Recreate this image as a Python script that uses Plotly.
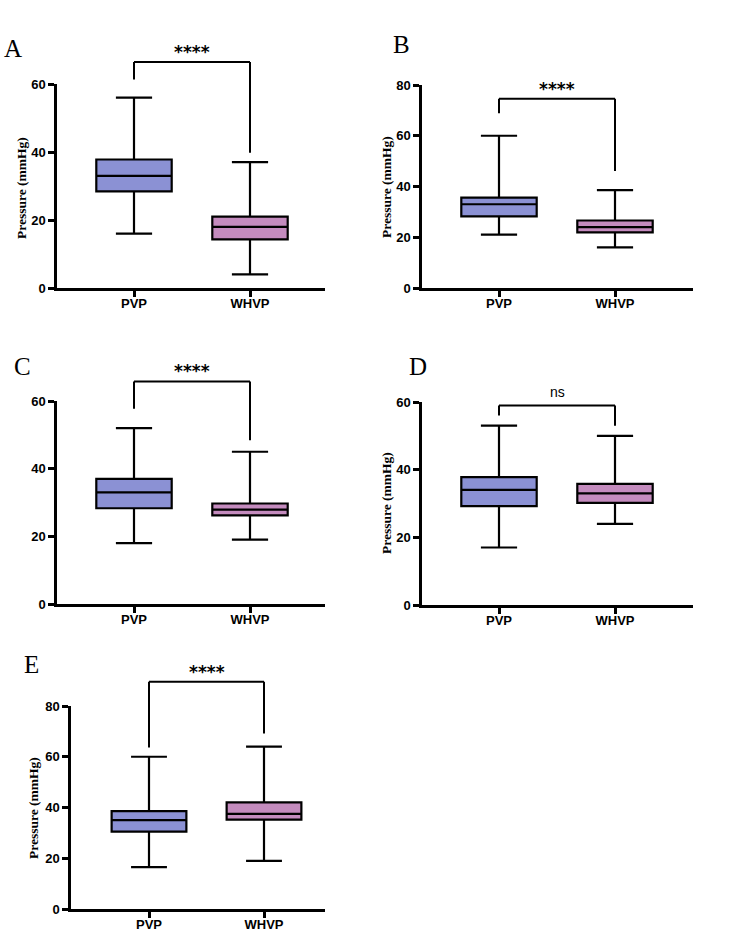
import plotly.graph_objects as go

# ---------------- data ----------------
categories = ["PVP", "WHVP"]
panel_letters = ["A", "B", "C", "D", "E"]

pvp_low = [16, 21, 18, 17, 16.5]
pvp_q1 = [28.4, 28.2, 28.3, 29.2, 30.5]
pvp_med = [33, 33, 33, 34, 35]
pvp_q3 = [37.8, 35.6, 37, 37.8, 38.6]
pvp_high = [56, 60, 52, 53, 60]

whvp_low = [4, 16, 19, 24, 19]
whvp_q1 = [14.3, 21.9, 26.2, 30.2, 35.2]
whvp_med = [18, 24, 27.9, 33, 37.5]
whvp_q3 = [21, 26.6, 29.7, 35.8, 42]
whvp_high = [37, 38.6, 45, 50, 64]

sig_labels = ["****", "****", "****", "ns", "****"]
bracket_top = [66.5, 74.6, 65.8, 59, 89.6]
bracket_left_end = [61.3, 68.9, 57.7, 56, 63.6]
bracket_right_end = [39.8, 46.1, 48.4, 53, 69.2]

y_max = [60, 80, 60, 60, 80]
y_ticks = [[0, 20, 40, 60], [0, 20, 40, 60, 80], [0, 20, 40, 60], [0, 20, 40, 60], [0, 20, 40, 60, 80]]
y_title = "Pressure (mmHg)"
show_y_title = [True, True, False, True, True]

# ---------------- layout geometry (pixels) ----------------
W, H = 733, 945
geo = [
    dict(x0=57, x1=325, yb=288, yt=84, c0=134, c1=250, lx=2, ly=33, tx=21, ty=188),
    dict(x0=422, x1=693, yb=288, yt=85, c0=499, c1=615, lx=391, ly=29, tx=386, ty=187),
    dict(x0=57, x1=325, yb=604, yt=401, c0=134, c1=250, lx=12, ly=351, tx=None, ty=None),
    dict(x0=422, x1=693, yb=605, yt=402, c0=499, c1=615, lx=407, ly=351, tx=387, ty=503),
    dict(x0=71, x1=325, yb=909, yt=706, c0=149, c1=264, lx=22, ly=649, tx=33, ty=808),
]

PVP_COLOR = "rgb(139,145,212)"
WHVP_COLOR = "rgb(196,139,190)"
TICK_FONT = dict(family="Liberation Sans, Arial, sans-serif", size=13, color="black", weight="bold")


def fx(px):
    return px / W


def fy(py):
    return 1 - py / H


fig = go.Figure()
shapes = []
annotations = []

for i in range(5):
    g = geo[i]
    sfx = "" if i == 0 else str(i + 1)
    xa, ya = "x" + sfx, "y" + sfx
    spacing = g["c1"] - g["c0"]
    xmin = (g["x0"] - g["c0"]) / spacing
    xmax = (g["x1"] - g["c0"]) / spacing

    for cat, col, lo, q1, md, q3, hi in [
        ("PVP", PVP_COLOR, pvp_low, pvp_q1, pvp_med, pvp_q3, pvp_high),
        ("WHVP", WHVP_COLOR, whvp_low, whvp_q1, whvp_med, whvp_q3, whvp_high),
    ]:
        fig.add_trace(go.Box(
            x=[cat], q1=[q1[i]], median=[md[i]], q3=[q3[i]],
            lowerfence=[lo[i]], upperfence=[hi[i]],
            fillcolor=col, line=dict(color="black", width=2.2),
            whiskerwidth=0.48, width=0.65, boxpoints=False,
            showlegend=False, xaxis=xa, yaxis=ya, hoverinfo="skip",
        ))

    axis_common = dict(showline=True, linecolor="black", linewidth=2.5,
                       ticks="outside", ticklen=6, tickwidth=2.5, tickcolor="black",
                       showgrid=False, zeroline=False, tickfont=TICK_FONT,
                       automargin=False)
    fig.layout["xaxis" + sfx] = dict(
        domain=[fx(g["x0"]), fx(g["x1"])], anchor=ya, type="category",
        categoryorder="array", categoryarray=categories,
        range=[xmin, xmax], ticklabelstandoff=-4, **axis_common)
    fig.layout["yaxis" + sfx] = dict(
        domain=[fy(g["yb"]), fy(g["yt"])], anchor=xa, range=[0, y_max[i]],
        tickvals=y_ticks[i], **axis_common)

    def dx(c):
        return (c - xmin) / (xmax - xmin)

    def dy(v):
        return v / y_max[i]

    xr, yr = xa + " domain", ya + " domain"
    line = dict(color="black", width=2)
    shapes.append(dict(type="line", xref=xr, yref=yr, x0=dx(0), x1=dx(0),
                       y0=dy(bracket_left_end[i]), y1=dy(bracket_top[i]), line=line))
    shapes.append(dict(type="line", xref=xr, yref=yr, x0=dx(0), x1=dx(1),
                       y0=dy(bracket_top[i]), y1=dy(bracket_top[i]), line=line))
    shapes.append(dict(type="line", xref=xr, yref=yr, x0=dx(1), x1=dx(1),
                       y0=dy(bracket_right_end[i]), y1=dy(bracket_top[i]), line=line))

    if sig_labels[i] == "ns":
        annotations.append(dict(xref=xr, yref=yr, x=dx(0.5), y=dy(bracket_top[i]),
                                text=sig_labels[i], showarrow=False, yanchor="bottom", yshift=3,
                                font=dict(family="Liberation Sans, Arial, sans-serif", size=14, color="black")))
    else:
        annotations.append(dict(xref=xr, yref=yr, x=dx(0.5), y=dy(bracket_top[i]),
                                text=sig_labels[i], showarrow=False, yanchor="bottom", yshift=-2,
                                font=dict(family="DejaVu Sans, sans-serif", size=17, color="black",
                                          weight="bold")))

    annotations.append(dict(xref="paper", yref="paper", x=fx(g["lx"]), y=fy(g["ly"]),
                            xanchor="left", yanchor="top", text=panel_letters[i], showarrow=False,
                            font=dict(family="Liberation Serif, Times New Roman, serif", size=25, color="black")))

    if show_y_title[i]:
        annotations.append(dict(xref="paper", yref="paper", x=fx(g["tx"]), y=fy(g["ty"]),
                                xanchor="center", yanchor="middle", textangle=-90,
                                text=y_title, showarrow=False,
                                font=dict(family="Liberation Serif, Times New Roman, serif", size=13.5,
                                          color="black", weight="bold")))

fig.update_layout(
    width=W, height=H, margin=dict(l=0, r=0, t=0, b=0, pad=0, autoexpand=False),
    paper_bgcolor="white", plot_bgcolor="white",
    shapes=shapes, annotations=annotations, showlegend=False,
)
fig.write_html("out.html", config={"displayModeBar": False},
               post_script="document.body.style.margin='0';document.body.style.overflow='hidden';")
